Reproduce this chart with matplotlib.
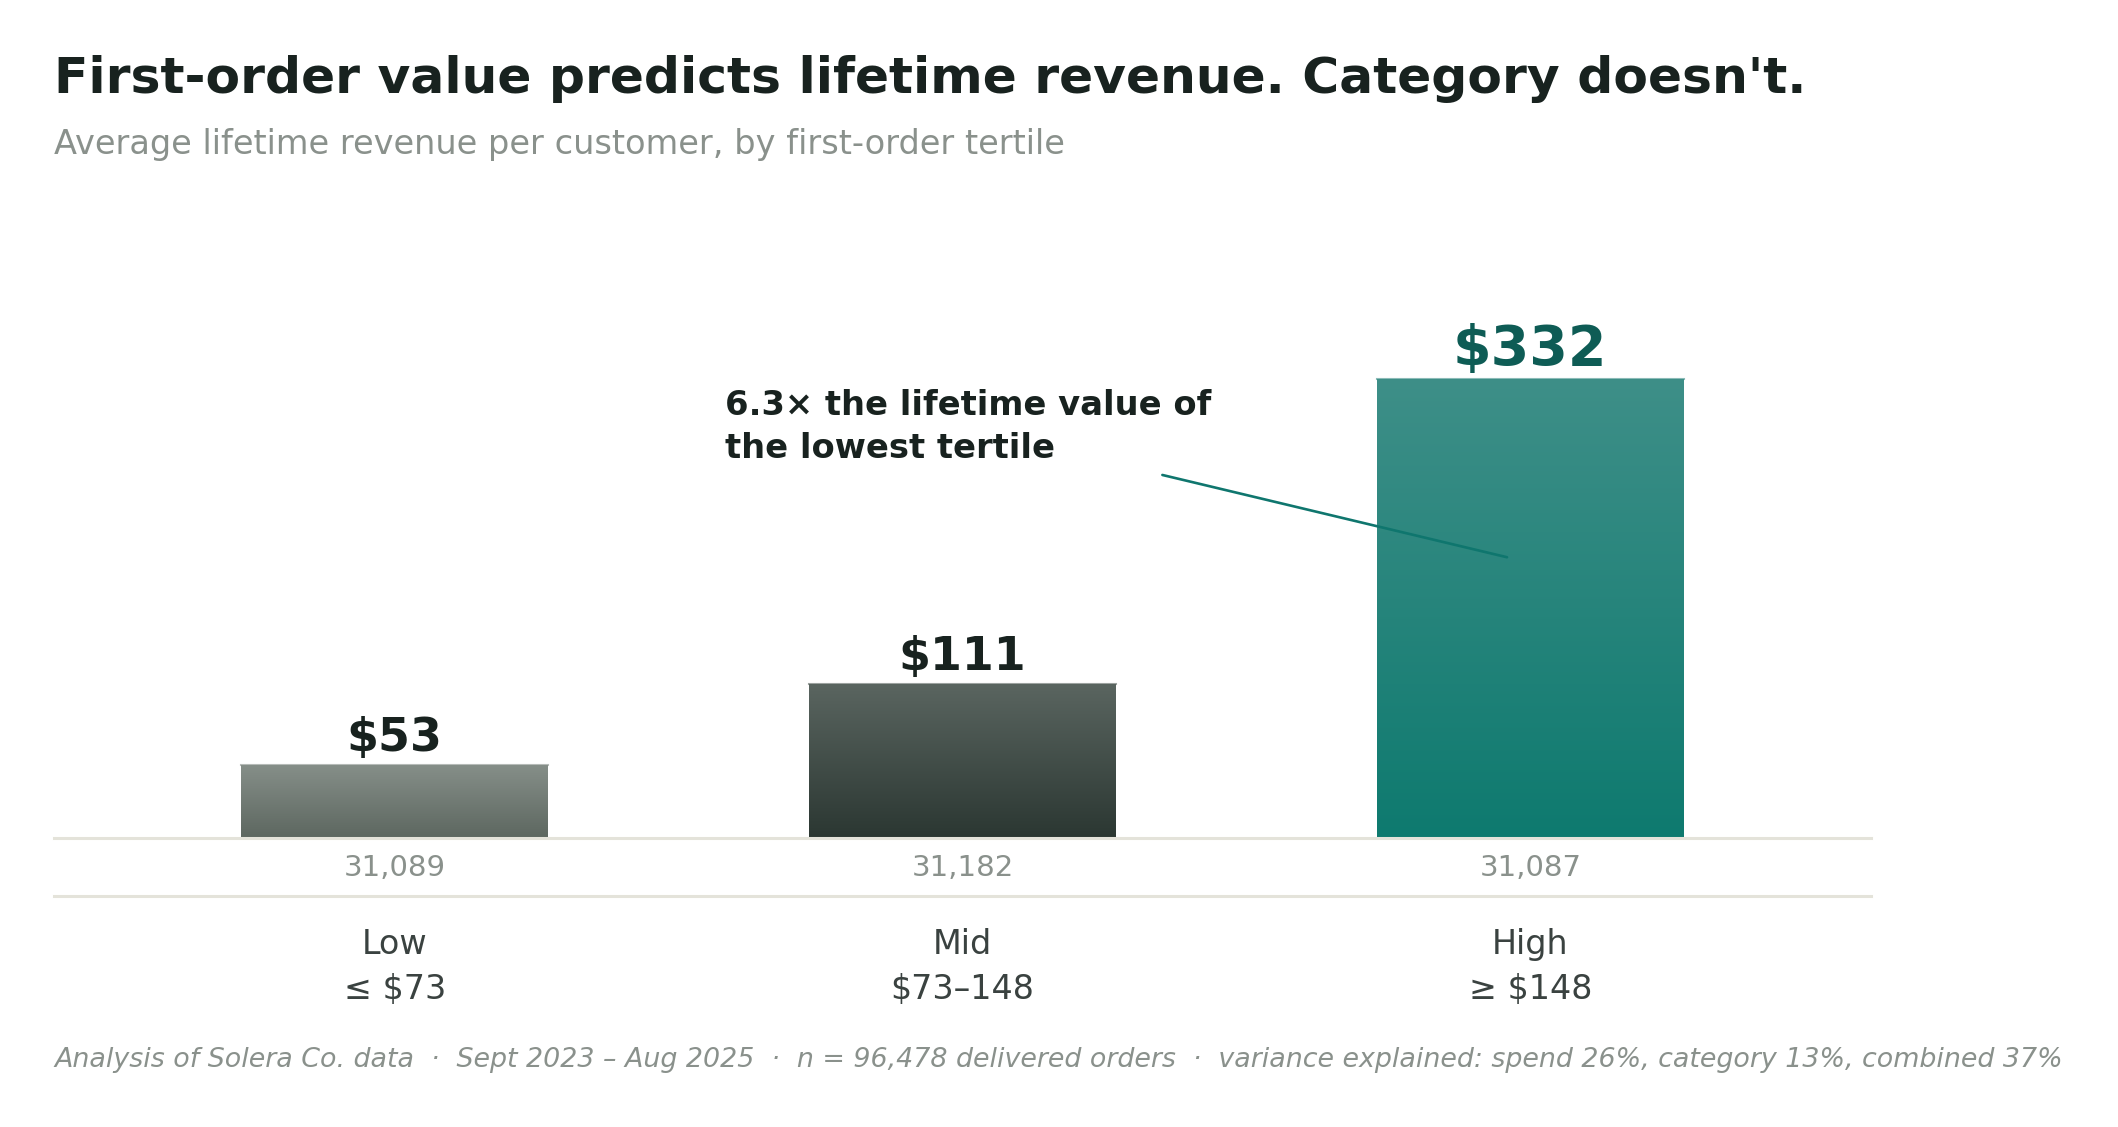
import matplotlib
matplotlib.use("Agg")
import matplotlib.pyplot as plt
import numpy as np
from matplotlib.colors import LinearSegmentedColormap
from matplotlib.lines import Line2D

# data
tiers = ["Low", "Mid", "High"]
ranges = ["\u2264 $73", "$73\u2013148", "\u2265 $148"]
revenue = [53, 111, 332]
customers = [31089, 31182, 31087]

# gradient (top, bottom) per bar
grad = [("#868f89", "#5d6760"), ("#5a6560", "#2b3732"), ("#3e8f88", "#0e7a6f")]
label_col = ["#18221f", "#18221f", "#0e5c55"]
label_size = [33, 33, 40]

W, H = 2118, 1127
fig = plt.figure(figsize=(W / 100, H / 100), dpi=100)
fig.patch.set_facecolor("white")

# axes placed in pixels: baseline at y=838, x from 54 to 1871
ax_bottom = 838
ax_top = ax_bottom - 400 * 1.383
ax = fig.add_axes([54 / W, (H - ax_bottom) / H, (1871 - 54) / W, (ax_bottom - ax_top) / H])
ax.set_xlim(-0.6, 2.6)
ax.set_ylim(0, 400)
ax.axis("off")

x = np.arange(len(tiers))
bw = 0.54
bars = ax.bar(x, revenue, width=bw, facecolor="none", edgecolor="none", zorder=2)
for i, b in enumerate(bars):
    top, bot = grad[i]
    cmap = LinearSegmentedColormap.from_list("g%d" % i, [bot, top])
    g = np.linspace(0, 1, 256).reshape(-1, 1)
    im = ax.imshow(g, cmap=cmap, origin="lower", aspect="auto",
                   extent=[x[i] - bw / 2, x[i] + bw / 2, 0, revenue[i]], zorder=2)
    im.set_clip_path(b)
    # thin light rim on top of each bar
    ax.plot([x[i] - bw / 2, x[i] + bw / 2], [revenue[i], revenue[i]],
            color=top, lw=1.5, alpha=0.6, zorder=3)

ax.set_xlim(-0.6, 2.6)
ax.set_ylim(0, 400)

# baseline
ax.axhline(0, color="#e4e3da", lw=2.2, zorder=4, clip_on=False)

for i in range(len(tiers)):
    ax.annotate("$%d" % revenue[i], xy=(x[i], revenue[i]), xytext=(0, 14),
                textcoords="offset pixels", ha="center", va="baseline",
                fontsize=label_size[i], fontweight="bold", color=label_col[i])
    ax.annotate("{:,}".format(customers[i]), xy=(x[i], 0), xytext=(0, -30),
                textcoords="offset pixels", ha="center", va="center",
                fontsize=21, color="#8a918c", annotation_clip=False)
    ax.annotate(tiers[i], xy=(x[i], 0), xytext=(0, -116),
                textcoords="offset pixels", ha="center", va="baseline",
                fontsize=24, color="#3a4240", annotation_clip=False)
    ax.annotate(ranges[i], xy=(x[i], 0), xytext=(0, -161),
                textcoords="offset pixels", ha="center", va="baseline",
                fontsize=24, color="#3a4240", annotation_clip=False)

# second divider under the counts
fig.add_artist(Line2D([54 / W, 1871 / W], [(H - 896) / H] * 2, color="#e4e3da", lw=2.2))

# callout
ax.annotate("", xy=(1.959, 203), xytext=(1.352, 262.5),
            arrowprops=dict(arrowstyle="-", color="#0f766e", lw=1.9,
                            shrinkA=0, shrinkB=0), zorder=5)
ax.text(0.581, 325, "6.3\u00d7 the lifetime value of\nthe lowest tertile",
        ha="left", va="top", fontsize=24.3, fontweight="bold", color="#18221f",
        linespacing=1.42)

# titles
fig.text(54 / W, 1 - 93 / H, "First-order value predicts lifetime revenue. Category doesn't.",
         ha="left", va="baseline", fontsize=36.3, fontweight="bold", color="#18221f")
fig.text(54 / W, 1 - 154 / H, "Average lifetime revenue per customer, by first-order tertile",
         ha="left", va="baseline", fontsize=24.2, color="#8a918c")

foot = ("Analysis of Solera Co. data  \u00b7  Sept 2023 \u2013 Aug 2025  \u00b7  "
        "n = 96,478 delivered orders  \u00b7  variance explained: spend 26%, "
        "category 13%, combined 37%")
fig.text(54 / W, 1 - 1067 / H, foot, ha="left", va="baseline",
         fontsize=19.35, style="italic", color="#8a918c")

fig.savefig("out.png", dpi=100, facecolor="white")
